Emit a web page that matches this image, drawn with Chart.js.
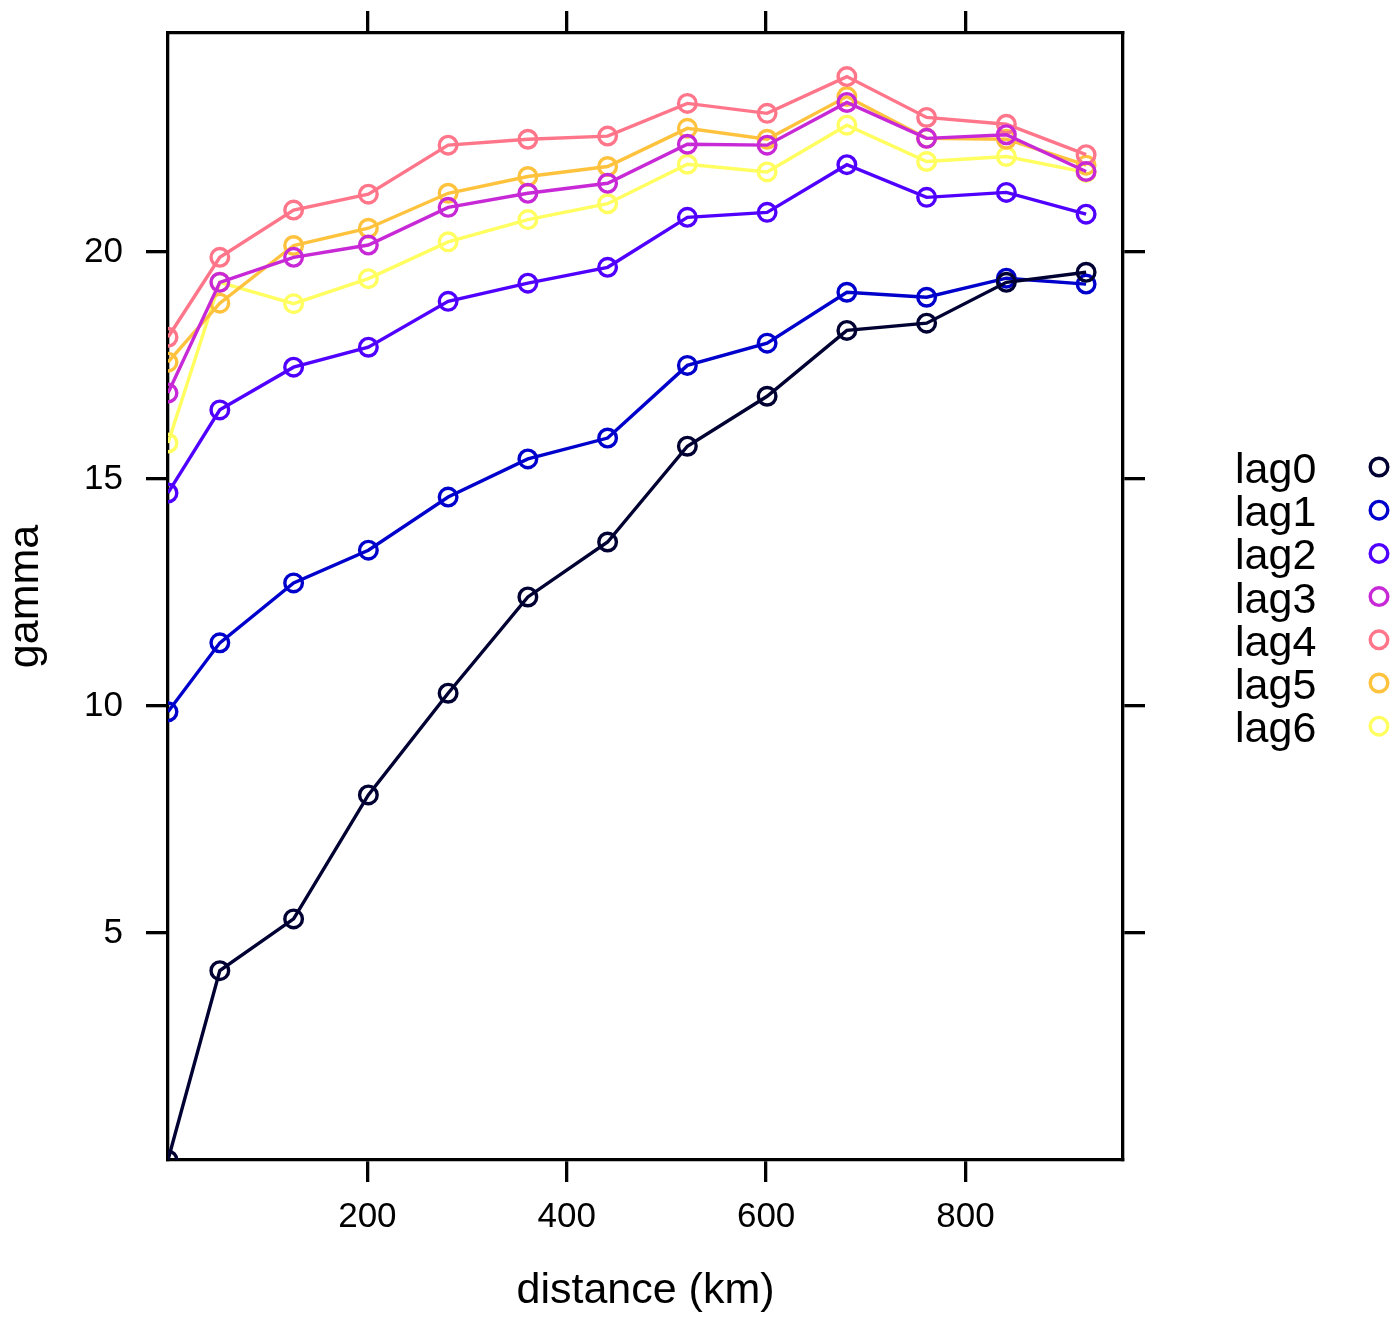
<!DOCTYPE html>
<html>
<head>
<meta charset="utf-8">
<title>gamma vs distance</title>
<script src="https://cdn.jsdelivr.net/npm/chart.js@4.4.1/dist/chart.umd.min.js"></script>
<style>
  html, body { margin: 0; padding: 0; background: #fff; }
  canvas { display: block; }
</style>
</head>
<body>
<canvas id="vgm" width="1397" height="1322"></canvas>
<script>
// bin distances (km) and semivariance per time lag
const distKm = [0, 52, 126, 201, 281, 361, 441, 521, 601, 681, 761, 841, 921];
const lag0 = [0.0, 4.17, 5.31, 8.04, 10.28, 12.40, 13.61, 15.72, 16.82, 18.27, 18.43, 19.33, 19.55];
const lag1 = [9.87, 11.39, 12.71, 13.43, 14.60, 15.44, 15.90, 17.50, 17.99, 19.11, 19.00, 19.42, 19.29];
const lag2 = [14.69, 16.52, 17.46, 17.90, 18.91, 19.31, 19.66, 20.76, 20.87, 21.92, 21.20, 21.31, 20.83];
const lag3 = [16.89, 19.33, 19.88, 20.15, 20.98, 21.29, 21.51, 22.37, 22.35, 23.29, 22.50, 22.58, 21.77];
const lag4 = [18.12, 19.88, 20.92, 21.27, 22.35, 22.48, 22.55, 23.27, 23.05, 23.86, 22.96, 22.81, 22.14];
const lag5 = [17.57, 18.87, 20.14, 20.52, 21.29, 21.66, 21.88, 22.72, 22.48, 23.42, 22.50, 22.48, 21.91];
const lag6 = [15.79, 19.33, 18.86, 19.41, 20.22, 20.71, 21.06, 21.93, 21.76, 22.79, 21.99, 22.10, 21.75];

const seriesNames = ['lag0', 'lag1', 'lag2', 'lag3', 'lag4', 'lag5', 'lag6'];
const seriesValues = [lag0, lag1, lag2, lag3, lag4, lag5, lag6];
const seriesColors = ['#000033', '#0000CC', '#5000FF', '#C729D6', '#FF758A', '#FFC23D', '#FFFF60'];

const xTicks = [200, 400, 600, 800];
const yTicks = [5, 10, 15, 20];
const xRange = [0, 958];
const yRange = [0, 24.82];

const FONT = '"Liberation Sans", Arial, Helvetica, sans-serif';

const datasets = seriesNames.map((name, i) => ({
  label: name,
  data: distKm.map((d, j) => ({ x: d, y: seriesValues[i][j] })),
  borderColor: seriesColors[i],
  backgroundColor: 'transparent',
  borderWidth: 3.4,
  pointRadius: 8.8,
  pointBorderWidth: 3.4,
  pointBackgroundColor: 'transparent',
  pointBorderColor: seriesColors[i],
  tension: 0,
  clip: 0
}));

const setTicks = vals => scale => { scale.ticks = vals.map(v => ({ value: v })); };
const noPad = s => { s.paddingTop = 0; s.paddingBottom = 0; s.paddingLeft = 0; s.paddingRight = 0; };

const gridOpts = {
  drawOnChartArea: false,
  drawTicks: true,
  tickLength: 22,
  color: '#000',
  lineWidth: 3.3
};
const borderOpts = { display: true, color: '#000', width: 3.3 };

// legend on the right: name, then a hollow circle
const sideLegend = {
  id: 'sideLegend',
  afterDraw(chart) {
    const ctx = chart.ctx;
    ctx.save();
    ctx.font = '43px ' + FONT;
    ctx.textAlign = 'left';
    ctx.textBaseline = 'alphabetic';
    chart.data.datasets.forEach((ds, i) => {
      const cy = 467 + i * 43.2;
      ctx.fillStyle = '#000';
      ctx.fillText(ds.label, 1235, cy + 16);
      ctx.beginPath();
      ctx.arc(1379, cy, 8.8, 0, Math.PI * 2);
      ctx.strokeStyle = ds.borderColor;
      ctx.lineWidth = 3.4;
      ctx.stroke();
    });
    ctx.restore();
  }
};

new Chart(document.getElementById('vgm'), {
  type: 'line',
  data: { datasets },
  plugins: [sideLegend],
  options: {
    responsive: false,
    animation: false,
    devicePixelRatio: 1,
    layout: { padding: 0 },
    plugins: { legend: { display: false }, tooltip: { enabled: false } },
    scales: {
      x: {
        type: 'linear',
        position: 'bottom',
        min: xRange[0], max: xRange[1],
        afterBuildTicks: setTicks(xTicks),
        afterFit: s => { s.height = 162; noPad(s); },
        grid: gridOpts,
        border: borderOpts,
        ticks: { color: '#000', font: { family: FONT, size: 35 }, padding: 14, maxRotation: 0 },
        title: {
          display: true, text: 'distance (km)', color: '#000',
          font: { family: FONT, size: 43, lineHeight: 1 },
          padding: { top: 0, bottom: 9 }
        }
      },
      x2: {
        type: 'linear',
        position: 'top',
        min: xRange[0], max: xRange[1],
        afterBuildTicks: setTicks(xTicks),
        afterFit: s => { s.height = 33; noPad(s); },
        grid: gridOpts,
        border: borderOpts,
        ticks: { display: false, padding: 0 }
      },
      y: {
        type: 'linear',
        position: 'left',
        min: yRange[0], max: yRange[1],
        afterBuildTicks: setTicks(yTicks),
        afterFit: s => { s.width = 168; noPad(s); },
        grid: gridOpts,
        border: borderOpts,
        ticks: { color: '#000', font: { family: FONT, size: 35 }, padding: 23 },
        title: {
          display: true, text: 'gamma', color: '#000',
          font: { family: FONT, size: 43, lineHeight: 1 },
          padding: { top: 5, bottom: 0 }
        }
      },
      y2: {
        type: 'linear',
        position: 'right',
        min: yRange[0], max: yRange[1],
        afterBuildTicks: setTicks(yTicks),
        afterFit: s => { s.width = 274; noPad(s); },
        grid: gridOpts,
        border: borderOpts,
        ticks: { display: false, padding: 0 }
      }
    }
  }
});
</script>
</body>
</html>
